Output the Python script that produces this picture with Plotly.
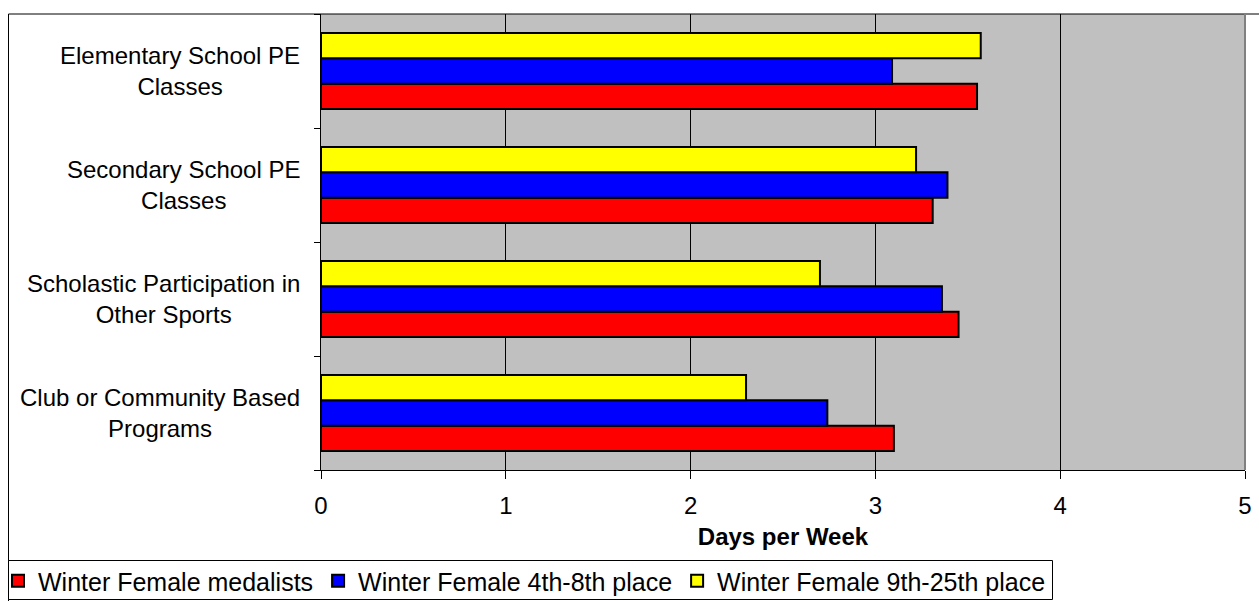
import plotly.graph_objects as go

categories = ["Club or Community Based<br>Programs",
              "Scholastic Participation in<br>Other Sports",
              "Secondary School PE<br>Classes",
              "Elementary School PE<br>Classes"]
series_names = ["Winter Female medalists", "Winter Female 4th-8th place", "Winter Female 9th-25th place"]
medalists = [3.10, 3.45, 3.31, 3.55]
place_4_8 = [2.74, 3.36, 3.39, 3.09]
place_9_25 = [2.30, 2.70, 3.22, 3.57]
colors = ["#FF0000", "#0000FF", "#FFFF00"]
x_ticks = [0, 1, 2, 3, 4, 5]

FONT = "Liberation Sans, Arial, sans-serif"
FS = 24

W, H = 1259, 601
L, T = 321, 14
PW, PH = 924, 456
R = W - L - PW
B = H - T - PH


def px_x(x):
    return (x - L) / PW


def px_y(y):
    return (PH - (y - T)) / PH


fig = go.Figure()
for name, vals, col in zip(series_names, [medalists, place_4_8, place_9_25], colors):
    fig.add_trace(go.Bar(
        y=categories, x=vals, name=name, orientation="h",
        marker=dict(color=col, line=dict(color="black", width=2)),
    ))

for cat in categories:
    fig.add_annotation(
        x=0, xref="paper", y=cat, yref="y", text=cat, showarrow=False,
        xanchor="right", yanchor="middle", align="center", xshift=-19,
        font=dict(family=FONT, size=FS, color="black"),
    )

# outer chart border
fig.add_shape(type="rect", xref="paper", yref="paper",
              x0=px_x(8.5), x1=1.2, y0=-0.5, y1=1.0,
              line=dict(color="black", width=1), layer="below")
# legend box
fig.add_shape(type="rect", xref="paper", yref="paper",
              x0=px_x(8.5), x1=px_x(1052.5), y0=px_y(599.5), y1=px_y(560.5),
              line=dict(color="black", width=1), fillcolor="white", layer="below")

fig.update_layout(
    width=W, height=H,
    margin=dict(l=L, r=R, t=T, b=B, autoexpand=False),
    paper_bgcolor="white", plot_bgcolor="#C0C0C0",
    barmode="group", bargap=0.333, bargroupgap=0,
    font=dict(family=FONT, size=FS, color="black"),
    showlegend=True,
    legend=dict(
        orientation="h", x=px_x(-2), xanchor="left",
        y=px_y(558), yanchor="top",
        borderwidth=0, bgcolor="rgba(0,0,0,0)",
        font=dict(family=FONT, size=25, color="black"),
        traceorder="normal", itemwidth=30,
    ),
    xaxis=dict(
        range=[0, 5], tickvals=x_ticks, ticktext=[str(t) for t in x_ticks],
        showgrid=True, gridcolor="black", gridwidth=1,
        showline=True, linecolor="black", linewidth=1, mirror=False,
        ticks="outside", ticklen=8, tickcolor="black",
        ticklabelstandoff=6,
        zeroline=False,
        title=dict(text="<b>Days per Week</b>", font=dict(family=FONT, size=FS), standoff=10),
        tickfont=dict(family=FONT, size=FS),
    ),
    yaxis=dict(
        categoryorder="array", categoryarray=categories,
        showticklabels=False, tickson="boundaries",
        ticks="outside", ticklen=6, tickcolor="black",
        showline=True, linecolor="black", linewidth=1,
        showgrid=False,
    ),
)

fig.add_shape(type="line", xref="paper", yref="paper", x0=1, x1=1, y0=0, y1=1,
              line=dict(color="#808080", width=2))

fig.write_html("out.html", config={"displayModeBar": False},
               post_script="document.body.style.margin='0px';document.body.style.overflow='hidden';")
